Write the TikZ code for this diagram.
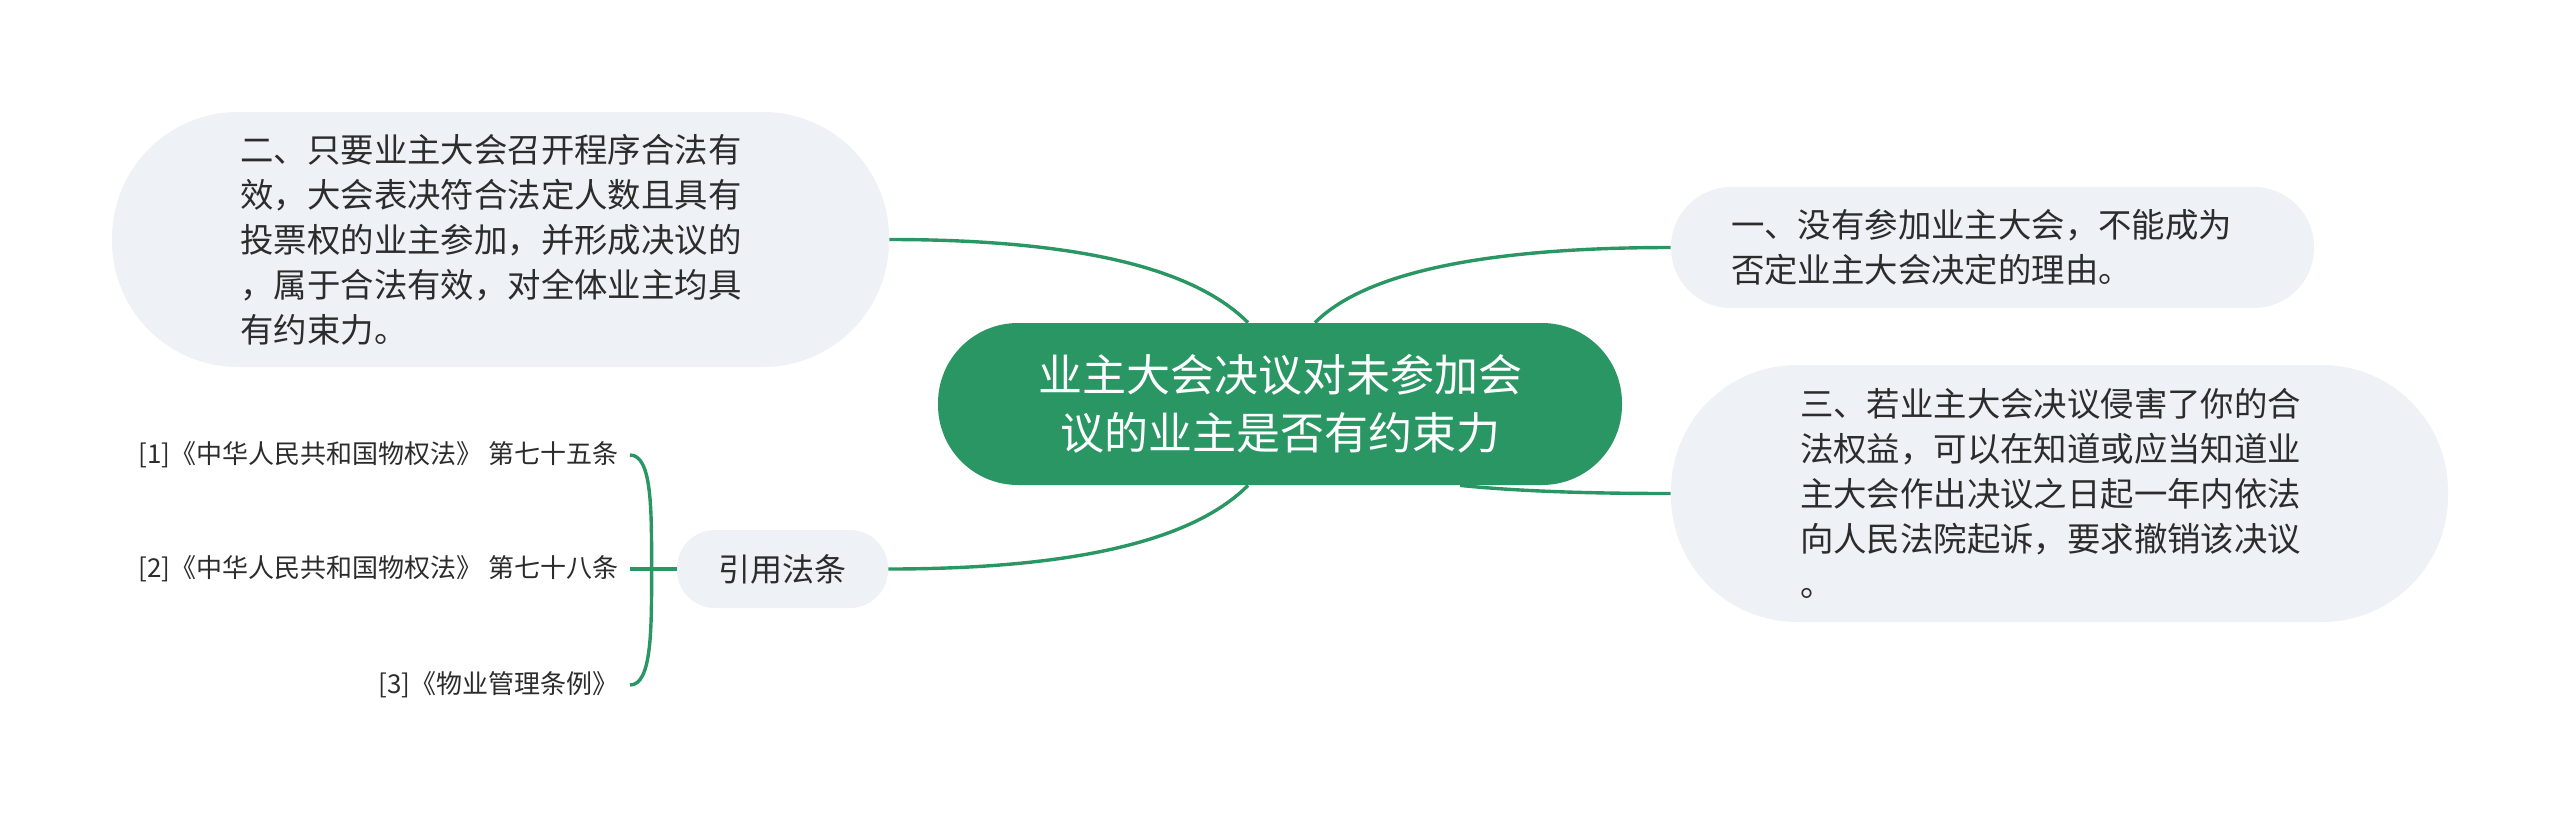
\documentclass[tikz,border=0pt]{standalone}
\usepackage{fontspec}
\setmainfont{Noto Sans CJK SC}
\usetikzlibrary{shapes}
\definecolor{mapgreen}{RGB}{41,150,99}
\definecolor{bubblegray}{RGB}{238,241,245}
\definecolor{inkgray}{RGB}{44,44,44}
\tikzset{topic/.style={fill=mapgreen,text=white,rounded corners=40pt,minimum width=342pt,minimum height=81pt,align=center,font=\fontsize{22}{29}\selectfont},
bubble/.style={fill=bubblegray,text=inkgray,align=left,font=\fontsize{16.7}{22.5}\selectfont},
leaf/.style={text=inkgray,inner xsep=5.5pt,inner ysep=0pt,anchor=east,font=\fontsize{13}{16}\selectfont},
branch/.style={draw=mapgreen,line width=1.7pt}}
\begin{document}
\begin{tikzpicture}[x=0.5pt,y=-0.5pt]
\useasboundingbox (0,0) rectangle (2560,826);
\node (main) at (1280,404) [topic] {业主大会决议对未参加会\\议的业主是否有约束力};
\node (lt) at (500.5,239.5) [bubble,minimum width=388.5pt,minimum height=127.5pt,rounded corners=63pt,text width=260pt] {二、只要业主大会召开程序合法有\\效，大会表决符合法定人数且具有\\投票权的业主参加，并形成决议的\\，属于合法有效，对全体业主均具\\有约束力。};
\node (rt) at (1992.5,247.5) [bubble,minimum width=321.5pt,minimum height=60.5pt,rounded corners=30pt,text width=261.5pt] {一、没有参加业主大会，不能成为\\否定业主大会决定的理由。};
\node (rb) at (2059.5,493.5) [bubble,minimum width=388.5pt,minimum height=128.5pt,rounded corners=63pt,text width=259.5pt] {三、若业主大会决议侵害了你的合\\法权益，可以在知道或应当知道业\\主大会作出决议之日起一年内依法\\向人民法院起诉，要求撤销该决议\\。};
\node (cite) at (782.5,569) [bubble,minimum width=105.5pt,minimum height=39pt,rounded corners=19pt,font=\fontsize{16}{20}\selectfont] {引用法条};
\node (l1) at (630,455) [leaf] {[1]《中华人民共和国物权法》 第七十五条};
\node (l2) at (630,569) [leaf] {[2]《中华人民共和国物权法》 第七十八条};
\node (l3) at (630,685) [leaf] {[3]《物业管理条例》};
% branches
\draw [branch] ([xshift=-16pt]main.north) .. controls +(-40,-40) and +(230,0) .. (lt.east);
\draw [branch] ([xshift=17.5pt]main.north) .. controls +(40,-40) and +(-220,0) .. (rt.west);
\draw [branch] ([xshift=90pt]main.south) .. controls +(60,6) and +(-80,0) .. (rb.west);
\draw [branch] ([xshift=-16pt]main.south) .. controls +(-40,40) and +(230,0) .. (cite.east);
% bracket
\coordinate (fork) at ([xshift=-12.5pt]cite.west);
\draw [branch] (cite.west) -- (l2.east);
\draw [branch] (l1.east) .. controls +(22,0) and +(0,-60) .. (fork) .. controls +(0,60) and +(22,0) .. (l3.east);
\end{tikzpicture}
\end{document}
